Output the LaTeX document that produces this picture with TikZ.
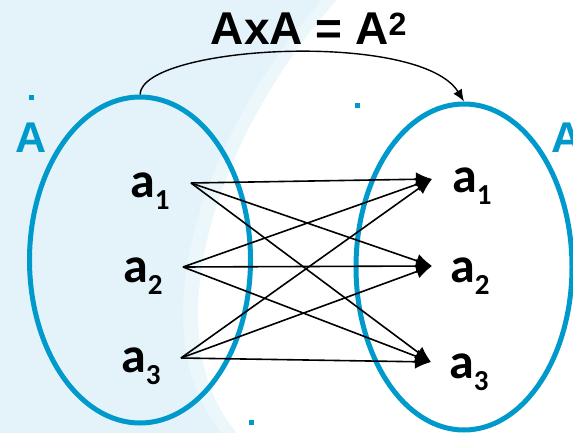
\documentclass[tikz,border=0pt]{standalone}
\usepackage{fontspec}
\setmainfont{Liberation Sans}
\newfontfamily\labfamily{Carlito}
\usetikzlibrary{shapes.geometric,arrows.meta}
\definecolor{bgblue}{HTML}{E3F3F9}
\definecolor{bandblue}{HTML}{EBF7FB}
\definecolor{setblue}{HTML}{0099CC}
\newcommand{\elem}[1]{{\labfamily\bfseries\fontsize{50}{50}\selectfont a\raisebox{-12pt}{\fontsize{29}{29}\selectfont #1}}}
\tikzset{
  setring/.style={ellipse, draw=setblue, line width=5pt, inner sep=0pt},
  elemlabel/.style={anchor=base west, inner sep=0pt, text=black},
  setname/.style={text=setblue, font=\bfseries\fontsize{43}{43}\selectfont, inner sep=0pt, anchor=base west},
  dotmark/.style={fill=setblue, minimum size=5pt, inner sep=0pt},
  pairarrow/.style={line width=1.6pt, -{Latex[length=16pt,width=14pt]}},
  maparrow/.style={line width=1.4pt, -{Latex[length=12pt,width=10pt]}}
}
\begin{document}
\begin{tikzpicture}[x=1pt,y=-1pt]
\useasboundingbox (0,0) rectangle (573,433);
% background
\fill[bgblue] (0,0) rectangle (573,433);
\fill[bandblue] (322,0) .. controls (205,130) and (135,330) .. (222,433) -- (573,433) -- (573,0) -- cycle;
\fill[white] (337,0) .. controls (220,130) and (150,330) .. (237,433) -- (573,433) -- (573,0) -- cycle;
% sets
\node[setring, minimum width=221pt, minimum height=326pt] (L) at (140,260) {};
\node[setring, minimum width=216pt, minimum height=326pt] (R) at (464,267) {};
% set names and dots
\node[setname] (nameL) at (15,153) {A};
\node[setname] (nameR) at (551,153) {A};
\node[dotmark] (d1) at (31,98) {};
\node[dotmark] (d2) at (357,106) {};
\node[dotmark] (d3) at (251,422) {};
% title
\node[font=\bfseries\fontsize{46}{46}\selectfont, anchor=base, inner sep=0pt] (title) at (309,45) {AxA = A\textsuperscript{2}};
% element labels
\node[elemlabel] (la1) at (130,197) {\elem{1}};
\node[elemlabel] (la2) at (123,282) {\elem{2}};
\node[elemlabel] (la3) at (121,372) {\elem{3}};
\node[elemlabel] (ra1) at (452,193) {\elem{1}};
\node[elemlabel] (ra2) at (450,282) {\elem{2}};
\node[elemlabel] (ra3) at (449,378) {\elem{3}};
% connector ends
\coordinate (s1) at (191,183);
\coordinate (s2) at (183,267);
\coordinate (s3) at (181,358);
\coordinate (t1) at (432,179);
\coordinate (t2) at (432,266);
\coordinate (t3) at (431,362);
\foreach \s in {1,2,3}{
  \foreach \t in {1,2,3}{
    \draw[pairarrow] (s\s) -- (t\t);
  }
}
% top map arrow
\draw[maparrow] (L.north) .. controls (142,45) and (420,30) .. (R.north);
\end{tikzpicture}
\end{document}
